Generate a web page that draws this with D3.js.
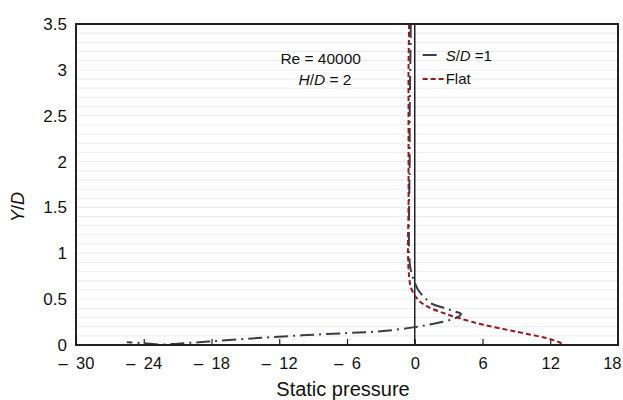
<!DOCTYPE html>
<html>
<head>
<meta charset="utf-8">
<script src="https://cdn.jsdelivr.net/npm/d3@7"></script>
<style>
  body { margin: 0; background: #fff; }
  svg { font-family: "Liberation Sans", Arial, sans-serif; }
</style>
</head>
<body>
<div id="chart"></div>
<script>
// Static pressure profiles, x = static pressure, y = Y/D
const xTicks = [-30, -24, -18, -12, -6, 0, 6, 12, 18];
const yTicks = [0, 0.5, 1, 1.5, 2, 2.5, 3, 3.5];

const ribbedSeries = [ // S/D = 1
  [-0.35, 3.5], [-0.4, 3.0], [-0.45, 2.5], [-0.45, 2.0], [-0.5, 1.5], [-0.5, 1.0],
  [-0.4, 0.85], [-0.2, 0.75], [0.0, 0.68], [0.3, 0.6], [0.7, 0.54], [1.5, 0.45],
  [2.7, 0.40], [3.7, 0.36], [4.1, 0.34], [3.9, 0.31], [3.3, 0.28], [2.0, 0.24],
  [0.0, 0.195], [-3.0, 0.15], [-6.0, 0.13], [-10.0, 0.105], [-14.0, 0.075],
  [-18.0, 0.04], [-21.0, 0.015], [-22.5, 0.005], [-24.0, 0.02], [-25.5, 0.03]
];
const flatSeries = [
  [-0.5, 3.5], [-0.55, 3.0], [-0.55, 2.5], [-0.55, 2.0], [-0.55, 1.5], [-0.6, 1.0],
  [-0.5, 0.75], [-0.35, 0.63], [0.0, 0.54], [0.5, 0.47], [1.1, 0.42], [2.5, 0.35],
  [4.0, 0.29], [6.1, 0.22], [9.0, 0.145], [11.7, 0.073], [12.8, 0.03], [13.2, 0.0]
];

const width = 623, height = 400;
const margin = {top: 24, right: 5, bottom: 55, left: 76};
const innerW = width - margin.left - margin.right;
const innerH = height - margin.top - margin.bottom;

const svg = d3.select('#chart').append('svg')
    .attr('width', width)
    .attr('height', height);

const chart = svg.append('g')
    .attr('transform', `translate(${margin.left},${margin.top})`);

const x = d3.scaleLinear().domain([-30, 18]).range([0, innerW]);
const y = d3.scaleLinear().domain([0, 3.5]).range([innerH, 0]);

// faint horizontal grid every 0.1
chart.append('g')
  .selectAll('line')
  .data(d3.range(1, 35).map(i => i / 10))
  .join('line')
    .attr('x1', 0).attr('x2', innerW)
    .attr('y1', d => y(d)).attr('y2', d => y(d))
    .attr('stroke', '#ececec')
    .attr('stroke-width', 1);

// x ticks pointing inward
const xAxis = chart.append('g')
    .attr('transform', `translate(0,${innerH})`)
    .call(d3.axisBottom(x).tickValues(xTicks).tickSize(-6).tickPadding(12)
      .tickFormat(d => d < 0 ? '\u2013\u2002' + Math.abs(d) : d));
xAxis.select('.domain').remove();
xAxis.selectAll('line').attr('stroke', '#222').attr('stroke-width', 1.2);
xAxis.selectAll('text').attr('font-size', 16.5).attr('fill', '#111');
// last label sits against the right edge
xAxis.selectAll('.tick').filter(d => d === 18).select('text')
    .attr('text-anchor', 'end').attr('dx', 3);

const yAxis = chart.append('g')
    .call(d3.axisLeft(y).tickValues(yTicks).tickSize(0).tickPadding(9)
      .tickFormat(d => String(d)));
yAxis.select('.domain').remove();
yAxis.selectAll('text').attr('font-size', 17).attr('fill', '#111');

// zero line
chart.append('line')
    .attr('x1', x(0)).attr('x2', x(0))
    .attr('y1', 0).attr('y2', innerH)
    .attr('stroke', '#222').attr('stroke-width', 1.5);

const line = d3.line()
    .x(d => x(d[0]))
    .y(d => y(d[1]))
    .curve(d3.curveCatmullRom.alpha(0.5));

chart.append('path')
    .datum(ribbedSeries)
    .attr('d', line)
    .attr('fill', 'none')
    .attr('stroke', '#3a3d42')
    .attr('stroke-width', 2)
    .attr('stroke-dasharray', '14,5,2,5');

chart.append('path')
    .datum(flatSeries)
    .attr('d', line)
    .attr('fill', 'none')
    .attr('stroke', '#8e1b1f')
    .attr('stroke-width', 2)
    .attr('stroke-dasharray', '5,3');

// frame
chart.append('rect')
    .attr('width', innerW).attr('height', innerH)
    .attr('fill', 'none')
    .attr('stroke', '#222').attr('stroke-width', 2);

// annotation
chart.append('text')
    .attr('font-size', 15.5).attr('fill', '#111')
    .attr('x', x(-11.9)).attr('y', 40).text('Re = 40000');
const n2 = chart.append('text').attr('font-size', 15.5).attr('fill', '#111')
    .attr('x', x(-10.3)).attr('y', 61);
n2.append('tspan').attr('font-style', 'italic').text('H');
n2.append('tspan').text('/');
n2.append('tspan').attr('font-style', 'italic').text('D');
n2.append('tspan').text(' = 2');

// legend
const legend = chart.append('g').attr('transform', `translate(${x(0.7)},0)`);
legend.append('line')
    .attr('x1', 0).attr('x2', 14).attr('y1', 31).attr('y2', 31)
    .attr('stroke', '#3a3d42').attr('stroke-width', 2);
const l1 = legend.append('text').attr('x', 23).attr('y', 37)
    .attr('font-size', 15).attr('fill', '#111');
l1.append('tspan').attr('font-style', 'italic').text('S');
l1.append('tspan').text('/');
l1.append('tspan').attr('font-style', 'italic').text('D');
l1.append('tspan').text(' =1');
legend.append('line')
    .attr('x1', 0).attr('x2', 22).attr('y1', 55).attr('y2', 55)
    .attr('stroke', '#8e1b1f').attr('stroke-width', 2)
    .attr('stroke-dasharray', '5,3');
legend.append('text').attr('x', 23).attr('y', 60)
    .attr('font-size', 15).attr('fill', '#111').text('Flat');

// axis titles
svg.append('text')
    .attr('x', margin.left + innerW / 2 - 4).attr('y', 396)
    .attr('text-anchor', 'middle')
    .attr('font-size', 20).attr('fill', '#111')
    .text('Static pressure');

const yt = svg.append('text')
    .attr('transform', 'translate(24,207) rotate(-90)')
    .attr('text-anchor', 'middle')
    .attr('font-size', 18).attr('fill', '#111');
yt.append('tspan').attr('font-style', 'italic').text('Y');
yt.append('tspan').text('/');
yt.append('tspan').attr('font-style', 'italic').text('D');
</script>
</body>
</html>
